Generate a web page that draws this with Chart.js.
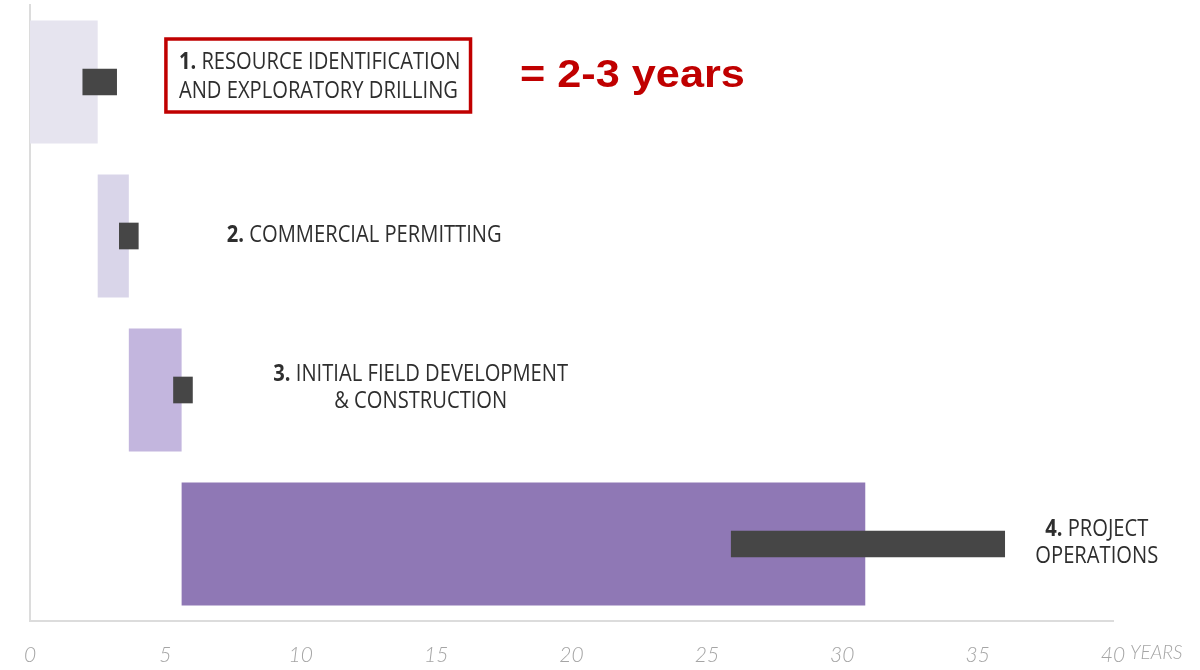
<!DOCTYPE html>
<html>
<head>
<meta charset="utf-8">
<script src="https://cdn.jsdelivr.net/npm/chart.js@4"></script>
<style>
  html, body { margin: 0; padding: 0; background: #fff; }
  #wrap { width: 1200px; height: 670px; }
</style>
</head>
<body>
<div id="wrap"><canvas id="phaseChart"></canvas></div>
<script>
// phases, top to bottom
const phases = ['Phase 1', 'Phase 2', 'Phase 3', 'Phase 4'];
// wide shaded bars (years)
const phaseStart = [0, 2.5, 3.65, 5.6];
const phaseEnd = [2.5, 3.65, 5.6, 30.85];
// small dark bars (years)
const activityStart = [1.95, 3.3, 5.3, 25.9];
const activityEnd = [3.2, 4.0, 6.0, 36.0];
const phaseColors = ['#e6e4ef', '#d9d5e9', '#c3b6de', '#8f78b5'];
const xTicks = [0, 5, 10, 15, 20, 25, 30, 35, 40];

const TEXT_FONT = '"Open Sans", "Noto Sans", sans-serif';
const TEXT_SIZE = 24;
const SQUEEZE = 0.84; // the original lettering is a condensed face

// draws "num rest" squeezed horizontally, returns the drawn width
function drawLine(ctx, num, rest, x, y, align) {
  ctx.font = 'bold ' + TEXT_SIZE + 'px ' + TEXT_FONT;
  const wNum = num ? ctx.measureText(num + ' ').width : 0;
  ctx.font = TEXT_SIZE + 'px ' + TEXT_FONT;
  const wRest = ctx.measureText(rest).width;
  const total = (wNum + wRest) * SQUEEZE;
  const left = align === 'center' ? x - total / 2 : x;
  ctx.save();
  ctx.translate(left, y);
  ctx.scale(SQUEEZE, 1);
  if (num) {
    ctx.font = 'bold ' + TEXT_SIZE + 'px ' + TEXT_FONT;
    ctx.fillText(num, 0, 0);
  }
  ctx.font = TEXT_SIZE + 'px ' + TEXT_FONT;
  ctx.fillText(rest, wNum, 0);
  ctx.restore();
  return total;
}

const labelPlugin = {
  id: 'phaseLabels',
  afterDatasetsDraw(chart) {
    const { ctx, scales: { x, y } } = chart;
    ctx.save();
    ctx.fillStyle = '#2e2e2e';
    ctx.textBaseline = 'middle';
    ctx.textAlign = 'left';

    // phase 1 with red box
    const r0 = y.getPixelForValue(0);
    const l1 = x.getPixelForValue(5.5);
    const w1 = drawLine(ctx, '1.', 'RESOURCE IDENTIFICATION', l1, r0 - 20, 'left');
    const w2 = drawLine(ctx, '', 'AND EXPLORATORY DRILLING', l1, r0 + 9, 'left');
    ctx.strokeStyle = '#c00000';
    ctx.lineWidth = 3.5;
    ctx.strokeRect(l1 - 13, r0 - 43, Math.max(w1, w2) + 23, 73);

    // red note, fitted to its width in the original
    ctx.fillStyle = '#c00000';
    ctx.font = 'bold 38px Arial, "Liberation Sans", sans-serif';
    const note = '= 2-3 years';
    const noteLeft = x.getPixelForValue(18.1);
    const noteW = x.getPixelForValue(26.4) - noteLeft;
    const sx = noteW / ctx.measureText(note).width;
    ctx.save();
    ctx.translate(noteLeft, r0 - 5);
    ctx.scale(sx, 1);
    ctx.fillText(note, 0, 0);
    ctx.restore();

    ctx.fillStyle = '#2e2e2e';
    // phase 2
    drawLine(ctx, '2.', 'COMMERCIAL PERMITTING', x.getPixelForValue(7.27), y.getPixelForValue(1) - 1, 'left');

    // phase 3
    const r2 = y.getPixelForValue(2);
    const c3 = x.getPixelForValue(14.43);
    drawLine(ctx, '3.', 'INITIAL FIELD DEVELOPMENT', c3, r2 - 16, 'center');
    drawLine(ctx, '', '& CONSTRUCTION', c3, r2 + 11, 'center');

    // phase 4
    const r3 = y.getPixelForValue(3);
    const c4 = x.getPixelForValue(39.4);
    drawLine(ctx, '4.', 'PROJECT', c4, r3 - 15, 'center');
    drawLine(ctx, '', 'OPERATIONS', c4, r3 + 12, 'center');

    // axis unit
    ctx.fillStyle = '#a5a5a5';
    ctx.font = 'italic 300 19px Lato, "Open Sans", sans-serif';
    ctx.fillText('YEARS', x.getPixelForValue(40) + 17, 653);
    ctx.restore();
  }
};

const ctx = document.getElementById('phaseChart').getContext('2d');
new Chart(ctx, {
  type: 'bar',
  data: {
    labels: phases,
    datasets: [
      {
        label: 'Activity',
        data: activityStart.map((s, i) => [s, activityEnd[i]]),
        backgroundColor: '#464646',
        barThickness: 26,
        grouped: false,
        order: 0
      },
      {
        label: 'Phase',
        data: phaseStart.map((s, i) => [s, phaseEnd[i]]),
        backgroundColor: phaseColors,
        barPercentage: 0.8,
        categoryPercentage: 1.0,
        grouped: false,
        order: 1
      }
    ]
  },
  options: {
    indexAxis: 'y',
    responsive: true,
    maintainAspectRatio: false,
    animation: false,
    layout: { padding: { left: 0, right: 87, top: 5, bottom: 0 } },
    plugins: {
      legend: { display: false },
      tooltip: { enabled: false }
    },
    scales: {
      x: {
        type: 'linear',
        min: 0,
        max: 40,
        afterBuildTicks: (scale) => { scale.ticks = xTicks.map(v => ({ value: v })); },
        grid: { display: false, drawTicks: false },
        border: { display: true, color: '#dcdcdc', width: 2 },
        ticks: {
          color: '#a5a5a5',
          padding: 22,
          font: { family: 'Lato, "Open Sans", sans-serif', size: 21, style: 'italic', weight: 300 },
          maxRotation: 0
        },
        afterFit: (scale) => { scale.height = 49; }
      },
      y: {
        type: 'category',
        grid: { display: false, drawTicks: false },
        border: { display: true, color: '#dcdcdc', width: 2 },
        ticks: { display: false },
        afterFit: (scale) => { scale.width = 30; }
      }
    }
  },
  plugins: [labelPlugin]
});
</script>
</body>
</html>
